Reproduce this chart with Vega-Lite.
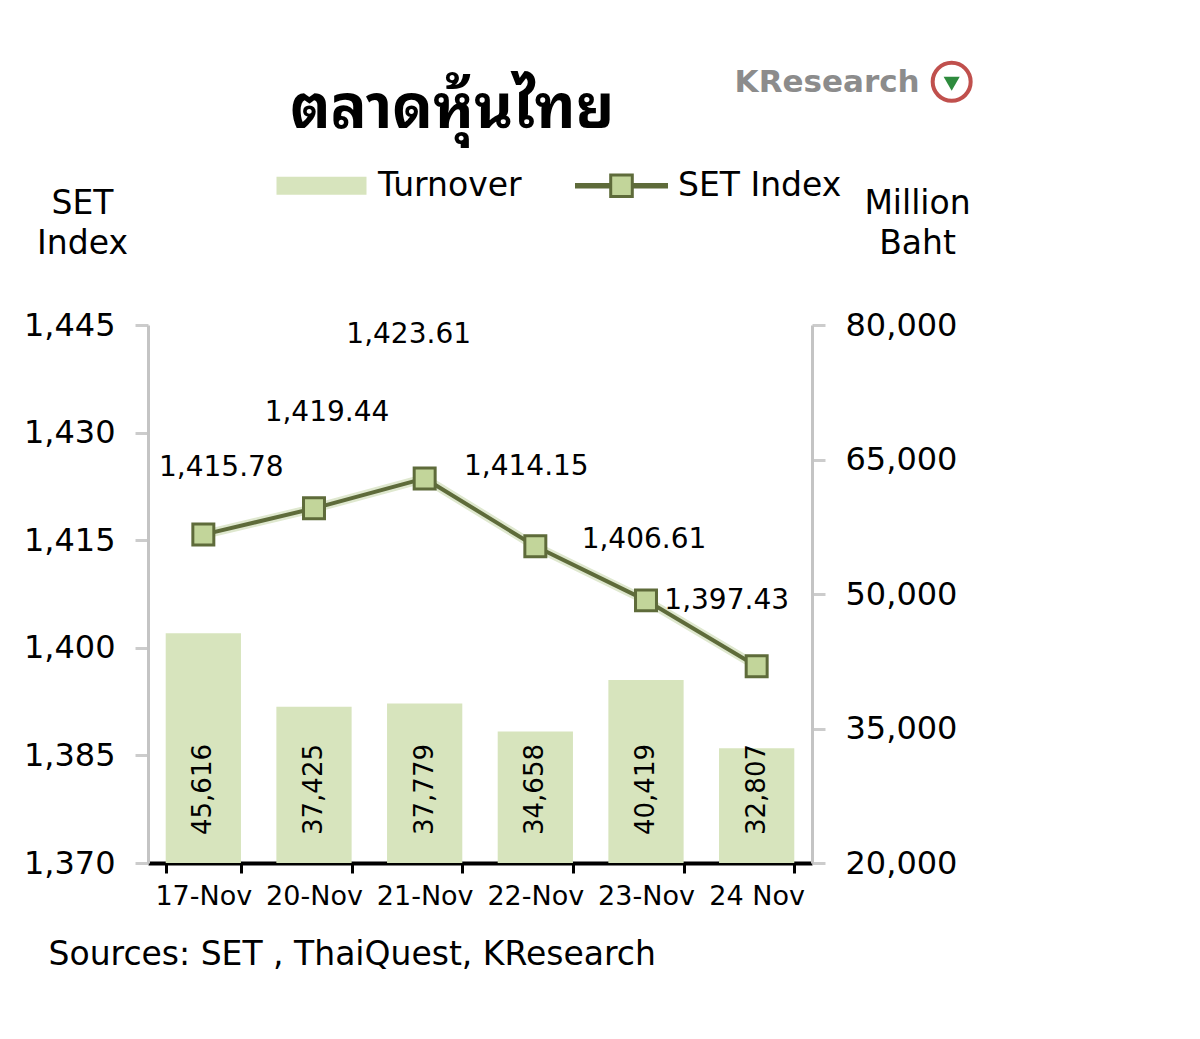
{
  "$schema": "https://vega.github.io/schema/vega-lite/v6.json",
  "width": 664,
  "height": 538,
  "autosize": {"type": "none"},
  "padding": {"left": 148, "top": 325, "right": 388, "bottom": 176},
  "background": "white",
  "config": {
    "font": "DejaVu Sans",
    "view": {"stroke": null},
    "axis": {"grid": false, "labelColor": "black", "titleColor": "black", "titleFontWeight": "normal"}
  },
  "title": {
    "text": "ตลาดหุ้นไทย",
    "anchor": "start",
    "frame": "group",
    "dx": 142,
    "dy": 96,
    "fontSize": 60,
    "fontWeight": "bold",
    "color": "black",
    "font": "Noto Sans Thai Looped, Noto Serif Thai, Norasi, Loma, Garuda, Noto Sans Thai, DejaVu Sans",
    "offset": 10
  },
  "data": {
    "values": [
      {"date": "17-Nov", "turnover": 45616, "set": 1415.78},
      {"date": "20-Nov", "turnover": 37425, "set": 1419.44},
      {"date": "21-Nov", "turnover": 37779, "set": 1423.61},
      {"date": "22-Nov", "turnover": 34658, "set": 1414.15},
      {"date": "23-Nov", "turnover": 40419, "set": 1406.61},
      {"date": "24 Nov", "turnover": 32807, "set": 1397.43}
    ]
  },
  "encoding": {
    "x": {
      "field": "date",
      "type": "nominal",
      "sort": null,
      "scale": {"paddingInner": 0.32, "paddingOuter": 0.16},
      "axis": {
        "labelAngle": 0,
        "labelFontSize": 27,
        "labelPadding": 10,
        "domainColor": "black",
        "domainWidth": 4,
        "tickColor": "black",
        "tickWidth": 3,
        "tickSize": 10,
        "tickBand": "extent",
        "title": "Sources: SET , ThaiQuest, KResearch",
        "titleFontSize": 33,
        "titleAlign": "left",
        "titleBaseline": "top",
        "titleX": -100,
        "titleY": 75
      }
    }
  },
  "layer": [
    {
      "encoding": {
        "y": {
          "field": "turnover",
          "type": "quantitative",
          "scale": {"domain": [20000, 80000], "nice": false},
          "axis": {
            "orient": "right",
            "values": [20000, 35000, 50000, 65000, 80000],
            "format": ",d",
            "labelFontSize": 32,
            "labelPadding": 20,
            "domainColor": "#c4c4c4",
            "domainWidth": 3,
            "tickColor": "#cccccc",
            "tickWidth": 3,
            "tickSize": 13,
            "title": ["Million", "Baht"],
            "titleAngle": 0,
            "titleFontSize": 33,
            "titleAlign": "center",
            "titleBaseline": "top",
            "titleX": 105,
            "titleY": -138,
            "titleLineHeight": 40
          }
        }
      },
      "layer": [
        {
          "mark": {"type": "bar"},
          "encoding": {
            "y2": {"datum": 20000},
            "color": {
              "datum": "Turnover",
              "scale": {"domain": ["Turnover", "SET Index"], "range": ["#d7e4bd", "#c2d59a"]},
              "legend": {
                "title": null,
                "orient": "none",
                "legendX": 127,
                "legendY": -186,
                "direction": "horizontal",
                "columns": 2,
                "columnPadding": 48,
                "padding": 0,
                "labelFontSize": 33,
                "labelColor": "black",
                "labelOffset": 10,
                "symbolSize": 8100,
                "labelLimit": 400,
                "encode": {
                  "symbols": {
                    "update": {
                      "shape": {"signal": "datum.value === 'Turnover' ? 'M-1,-0.2H1V0.2H-1Z' : 'M-1,-0.03H-0.24V-0.24H0.24V-0.03H1V0.03H0.24V0.24H-0.24V0.03H-1Z'"},
                      "stroke": {"signal": "datum.value === 'Turnover' ? 'transparent' : '#5e6b3a'"},
                      "strokeWidth": {"value": 3},
                      "opacity": {"value": 1},
                      "fillOpacity": {"value": 1},
                      "strokeOpacity": {"value": 1},
                      "size": {"value": 8100}
                    }
                  }
                }
              }
            }
          }
        },
        {
          "mark": {"type": "text", "angle": 270, "align": "left", "baseline": "middle", "dx": 28, "fontSize": 26, "color": "black"},
          "encoding": {
            "y": {"datum": 20000, "type": "quantitative"},
            "text": {"field": "turnover", "type": "quantitative", "format": ","}
          }
        }
      ]
    },
    {
      "encoding": {
        "y": {
          "field": "set",
          "type": "quantitative",
          "scale": {"domain": [1370, 1445], "nice": false, "zero": false},
          "axis": {
            "orient": "left",
            "values": [1370, 1385, 1400, 1415, 1430, 1445],
            "format": ",d",
            "labelFontSize": 32,
            "labelPadding": 20,
            "domainColor": "#c4c4c4",
            "domainWidth": 3,
            "tickColor": "#cccccc",
            "tickWidth": 3,
            "tickSize": 13,
            "title": ["SET", "Index"],
            "titleAngle": 0,
            "titleFontSize": 33,
            "titleAlign": "center",
            "titleBaseline": "top",
            "titleX": -66,
            "titleY": -138,
            "titleLineHeight": 40
          }
        }
      },
      "layer": [
        {
          "mark": {"type": "line", "color": "#dfe8cf", "strokeWidth": 9},
          "encoding": {}
        },
        {
          "mark": {"type": "line", "color": "#5e6b3a", "strokeWidth": 4},
          "encoding": {}
        },
        {
          "mark": {"type": "point", "shape": "square", "filled": true, "stroke": "#5e6b3a", "strokeWidth": 3, "size": 440, "opacity": 1},
          "encoding": {"color": {"datum": "SET Index"}}
        },
        {
          "transform": [{"filter": "datum.date === '17-Nov'"}],
          "mark": {"type": "text", "fontSize": 28, "color": "black", "dx": 18, "dy": -67},
          "encoding": {"text": {"field": "set", "type": "quantitative", "format": ",.2f"}}
        },
        {
          "transform": [{"filter": "datum.date === '20-Nov'"}],
          "mark": {"type": "text", "fontSize": 28, "color": "black", "dx": 13, "dy": -95},
          "encoding": {"text": {"field": "set", "type": "quantitative", "format": ",.2f"}}
        },
        {
          "transform": [{"filter": "datum.date === '21-Nov'"}],
          "mark": {"type": "text", "fontSize": 28, "color": "black", "dx": -16, "dy": -143},
          "encoding": {"text": {"field": "set", "type": "quantitative", "format": ",.2f"}}
        },
        {
          "transform": [{"filter": "datum.date === '22-Nov'"}],
          "mark": {"type": "text", "fontSize": 28, "color": "black", "dx": -9, "dy": -79},
          "encoding": {"text": {"field": "set", "type": "quantitative", "format": ",.2f"}}
        },
        {
          "transform": [{"filter": "datum.date === '23-Nov'"}],
          "mark": {"type": "text", "fontSize": 28, "color": "black", "dx": -2, "dy": -60},
          "encoding": {"text": {"field": "set", "type": "quantitative", "format": ",.2f"}}
        },
        {
          "transform": [{"filter": "datum.date === '24 Nov'"}],
          "mark": {"type": "text", "fontSize": 28, "color": "black", "dx": -30, "dy": -65},
          "encoding": {"text": {"field": "set", "type": "quantitative", "format": ",.2f"}}
        },
        {
          "transform": [{"filter": "datum.date === '24 Nov'"}],
          "mark": {"type": "text", "fontSize": 31, "fontWeight": "bold", "color": "#8c8c8c", "align": "right", "baseline": "middle", "dx": 163, "clip": false},
          "encoding": {
            "y": {"datum": 1478.7, "type": "quantitative"},
            "text": {"value": "KResearch"}
          }
        },
        {
          "transform": [{"filter": "datum.date === '24 Nov'"}],
          "mark": {"type": "point", "shape": "circle", "filled": true, "fill": "white", "stroke": "#c0504d", "strokeWidth": 4, "size": 1444, "opacity": 1, "xOffset": 195, "clip": false},
          "encoding": {
            "y": {"datum": 1478.9, "type": "quantitative"}
          }
        },
        {
          "transform": [{"filter": "datum.date === '24 Nov'"}],
          "mark": {"type": "point", "shape": "triangle-down", "filled": true, "fill": "#2e8b3e", "size": 260, "opacity": 1, "xOffset": 195, "yOffset": 2, "clip": false},
          "encoding": {
            "y": {"datum": 1478.9, "type": "quantitative"}
          }
        }
      ]
    }
  ],
  "resolve": {"scale": {"y": "independent"}}
}
